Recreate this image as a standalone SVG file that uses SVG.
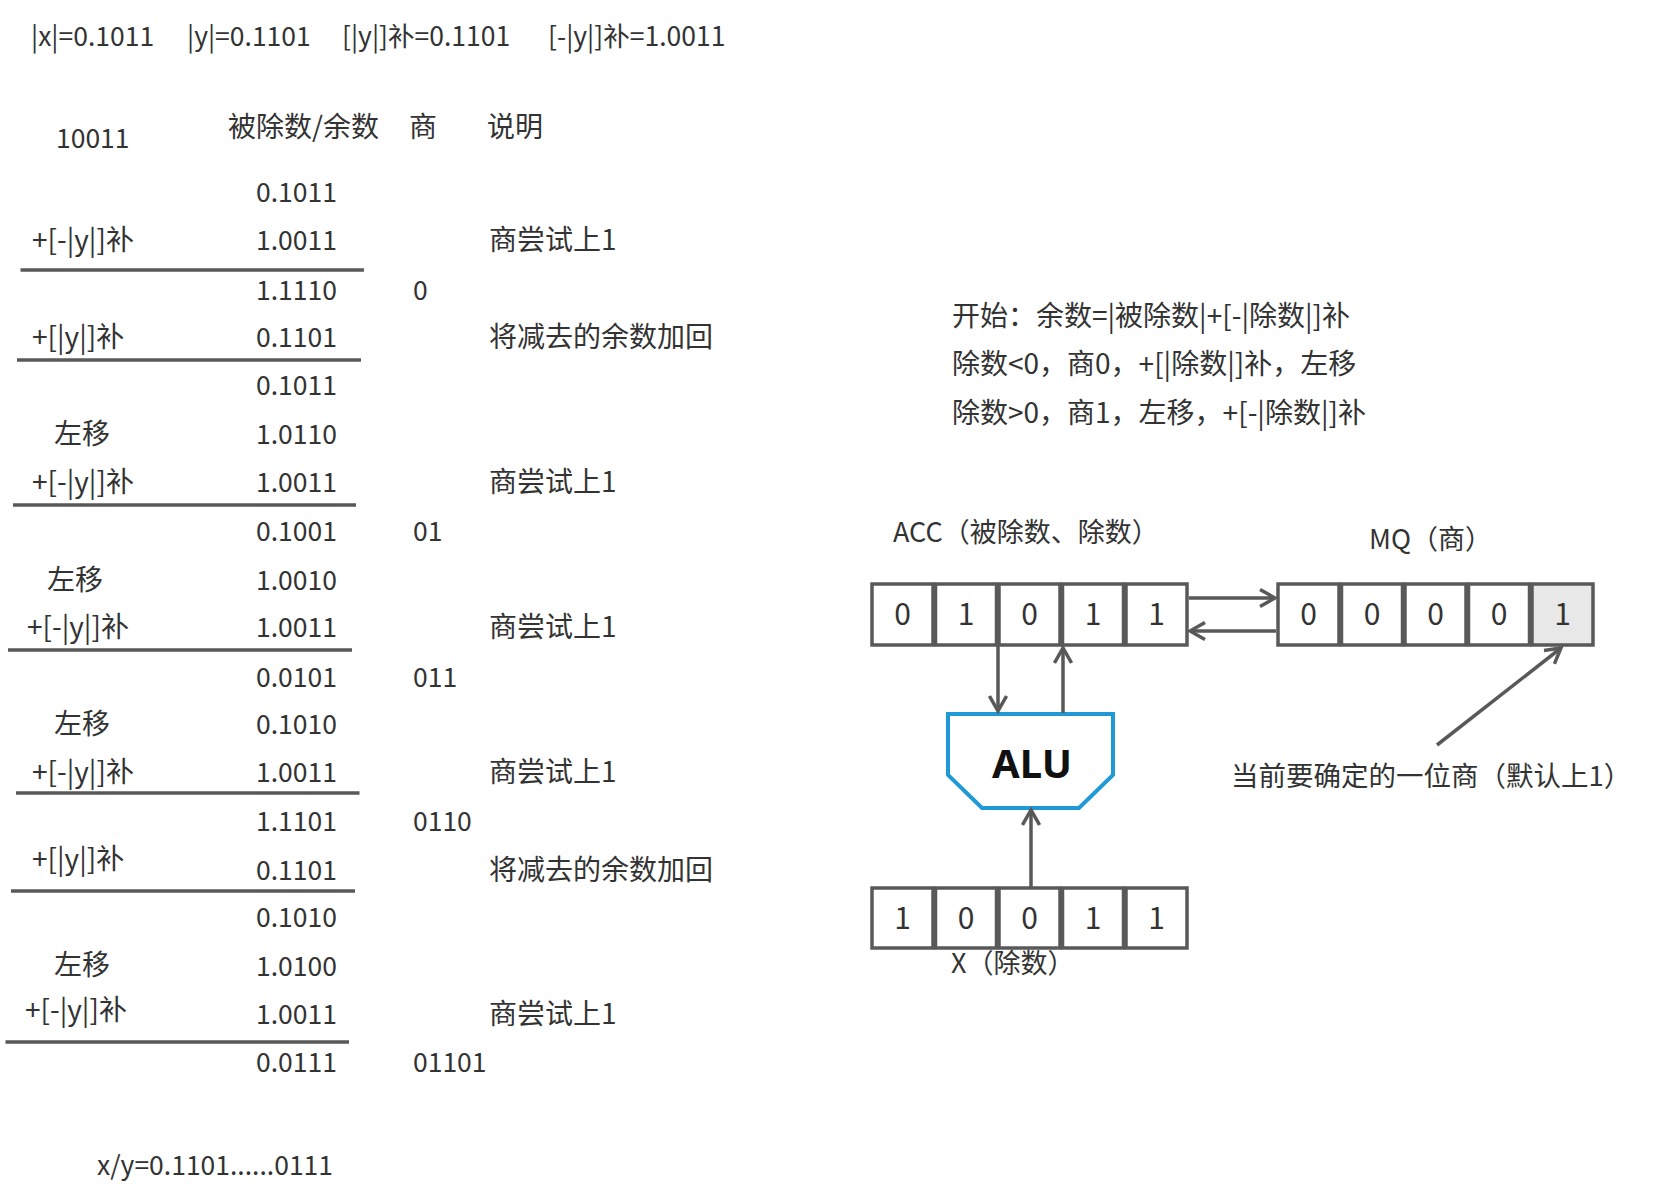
<svg xmlns="http://www.w3.org/2000/svg" width="1653" height="1202" viewBox="0 0 1653 1202">
<style>
text{font-family:"Noto Sans CJK SC","Noto Sans",sans-serif;fill:#333;font-size:28px}
.n{font-size:26.5px}
.r{font-size:27px}
.d{font-size:30px;text-anchor:middle}
.rule{stroke:#595959;stroke-width:3.5}
.cell{fill:#fff;stroke:#595959;stroke-width:3.5}
.con{stroke:#595959;stroke-width:3.5;fill:none}
.alu{font-family:"Noto Sans","Noto Sans CJK SC",sans-serif;font-size:40px;font-weight:700;fill:#111;text-anchor:middle}
</style>
<defs>
<marker id="ah" viewBox="0 0 20 20" markerWidth="20" markerHeight="20" refX="17" refY="10" orient="auto" markerUnits="userSpaceOnUse">
<path d="M2,1.5 L17,10 L2,18.5" fill="none" stroke="#595959" stroke-width="3.5"/>
</marker>
</defs>
<rect width="1653" height="1202" fill="#fff"/>

<g id="header">
<text class="n" x="31" y="46">|x|=0.1011</text>
<text class="n" x="187" y="46">|y|=0.1101</text>
<text class="n" x="342" y="46">[|y|]补=0.1101</text>
<text class="n" x="548" y="46">[-|y|]补=1.0011</text>
</g>

<g id="table">
<text class="n" x="56" y="148">10011</text>
<text x="228" y="137">被除数/余数</text>
<text x="409" y="137">商</text>
<text x="487" y="137">说明</text>

<text class="n" x="256" y="201.5">0.1011</text>
<text x="32" y="250">+[-|y|]补</text><text class="n" x="256" y="250">1.0011</text><text x="489" y="250">商尝试上1</text>
<text class="n" x="256" y="299.5">1.1110</text><text class="n" x="413" y="299.5">0</text>
<text x="32" y="347">+[|y|]补</text><text class="n" x="256" y="347">0.1101</text><text x="489" y="347">将减去的余数加回</text>
<text class="n" x="256" y="394.5">0.1011</text>
<text x="54" y="444">左移</text><text class="n" x="256" y="444">1.0110</text>
<text x="32" y="491.5">+[-|y|]补</text><text class="n" x="256" y="491.5">1.0011</text><text x="489" y="491.5">商尝试上1</text>
<text class="n" x="256" y="541">0.1001</text><text class="n" x="413" y="541">01</text>
<text x="47" y="589.5">左移</text><text class="n" x="256" y="589.5">1.0010</text>
<text x="27" y="637">+[-|y|]补</text><text class="n" x="256" y="637">1.0011</text><text x="489" y="637">商尝试上1</text>
<text class="n" x="256" y="686.5">0.0101</text><text class="n" x="413" y="686.5">011</text>
<text x="54" y="734">左移</text><text class="n" x="256" y="734">0.1010</text>
<text x="32" y="781.5">+[-|y|]补</text><text class="n" x="256" y="781.5">1.0011</text><text x="489" y="781.5">商尝试上1</text>
<text class="n" x="256" y="831">1.1101</text><text class="n" x="413" y="831">0110</text>
<text x="32" y="869">+[|y|]补</text><text class="n" x="256" y="879.5">0.1101</text><text x="489" y="879.5">将减去的余数加回</text>
<text class="n" x="256" y="927">0.1010</text>
<text x="54" y="975">左移</text><text class="n" x="256" y="976">1.0100</text>
<text x="25" y="1019.5">+[-|y|]补</text><text class="n" x="256" y="1024">1.0011</text><text x="489" y="1024">商尝试上1</text>
<text class="n" x="256" y="1072">0.0111</text><text class="n" x="413" y="1072">01101</text>
<text class="n" x="97" y="1175">x/y=0.1101......0111</text>

<line class="rule" x1="20.5" y1="270" x2="364" y2="270"/>
<line class="rule" x1="17" y1="360" x2="361" y2="360"/>
<line class="rule" x1="13" y1="505" x2="356" y2="505"/>
<line class="rule" x1="8" y1="650" x2="352" y2="650"/>
<line class="rule" x1="16" y1="793" x2="359.5" y2="793"/>
<line class="rule" x1="11" y1="891" x2="355" y2="891"/>
<line class="rule" x1="5.5" y1="1042" x2="349" y2="1042"/>
</g>

<g id="rules">
<text x="952" y="326">开始：余数=|被除数|+[-|除数|]补</text>
<text x="952" y="374">除数&lt;0，商0，+[|除数|]补，左移</text>
<text x="952" y="423">除数&gt;0，商1，左移，+[-|除数|]补</text>
</g>

<g id="acc">
<text class="r" x="893" y="542">ACC（被除数、除数）</text>
<rect class="cell" x="872" y="584" width="61" height="61"/>
<rect class="cell" x="935.5" y="584" width="61" height="61"/>
<rect class="cell" x="999" y="584" width="61" height="61"/>
<rect class="cell" x="1062.5" y="584" width="61" height="61"/>
<rect class="cell" x="1126" y="584" width="61" height="61"/>
<text class="d" x="902.5" y="625">0</text>
<text class="d" x="966" y="625">1</text>
<text class="d" x="1029.5" y="625">0</text>
<text class="d" x="1093" y="625">1</text>
<text class="d" x="1156.5" y="625">1</text>
</g>

<g id="mq">
<text class="r" x="1369" y="549">MQ（商）</text>
<rect class="cell" x="1278" y="584" width="61" height="61"/>
<rect class="cell" x="1341.5" y="584" width="61" height="61"/>
<rect class="cell" x="1405" y="584" width="61" height="61"/>
<rect class="cell" x="1468.5" y="584" width="61" height="61"/>
<rect class="cell" x="1532" y="584" width="61" height="61" style="fill:#e8e8e8"/>
<text class="d" x="1308.5" y="625">0</text>
<text class="d" x="1372" y="625">0</text>
<text class="d" x="1435.5" y="625">0</text>
<text class="d" x="1499" y="625">0</text>
<text class="d" x="1562.5" y="625">1</text>
</g>

<g id="alu">
<polygon points="948,714 1113,714 1113,775 1079,808 982,808 948,775" fill="#fff" stroke="#1f9ad6" stroke-width="4"/>
<text class="alu" x="1032" y="778">ALU</text>
</g>

<g id="x">
<rect class="cell" x="872" y="888" width="61" height="60"/>
<rect class="cell" x="935.5" y="888" width="61" height="60"/>
<rect class="cell" x="999" y="888" width="61" height="60"/>
<rect class="cell" x="1062.5" y="888" width="61" height="60"/>
<rect class="cell" x="1126" y="888" width="61" height="60"/>
<text class="d" x="902.5" y="929">1</text>
<text class="d" x="966" y="929">0</text>
<text class="d" x="1029.5" y="929">0</text>
<text class="d" x="1093" y="929">1</text>
<text class="d" x="1156.5" y="929">1</text>
<text class="r" x="951" y="973">X（除数）</text>
</g>

<g id="note">
<text x="1231" y="786" style="font-size:27.5px">当前要确定的一位商（默认上1）</text>
</g>

<g id="connectors">
<line class="con" x1="1189" y1="598" x2="1275" y2="598" marker-end="url(#ah)"/>
<line class="con" x1="1276" y1="631" x2="1190" y2="631" marker-end="url(#ah)"/>
<line class="con" x1="998" y1="646" x2="998" y2="711" marker-end="url(#ah)"/>
<line class="con" x1="1063" y1="713" x2="1063" y2="648" marker-end="url(#ah)"/>
<line class="con" x1="1031" y1="887" x2="1031" y2="810" marker-end="url(#ah)"/>
<line class="con" x1="1437" y1="745" x2="1561" y2="648" marker-end="url(#ah)"/>
</g>
</svg>
